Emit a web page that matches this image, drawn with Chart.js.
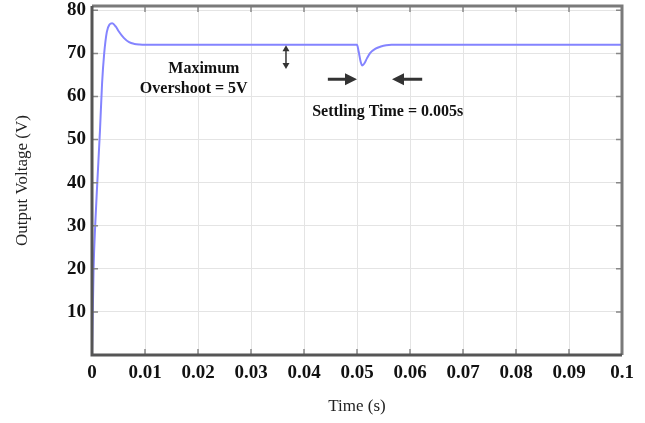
<!DOCTYPE html>
<html>
<head>
<meta charset="utf-8">
<script src="https://cdn.jsdelivr.net/npm/chart.js@4"></script>
<style>
  html, body { margin: 0; padding: 0; background: #fff; }
  #wrap { width: 645px; height: 423px; }
</style>
</head>
<body>
<div id="wrap"><canvas id="chart"></canvas></div>
<script>
// Output voltage response (time in s, voltage in V)
const timeS = [0, 0.0003, 0.0006, 0.0010, 0.0015, 0.0019, 0.0023, 0.0028, 0.0033, 0.0038,
  0.0045, 0.0050, 0.0060, 0.0070, 0.0080, 0.0090, 0.0100, 0.0500, 0.0503, 0.0507,
  0.0510, 0.0514, 0.0519, 0.0525, 0.0535, 0.0545, 0.0555, 0.0565, 0.1];
const voltage = [0, 20, 30, 40, 52, 63, 70, 75, 76.7, 77,
  76.2, 75.2, 73.6, 72.6, 72.2, 72.05, 72, 72, 70.5, 68,
  67.2, 67.7, 68.9, 70.1, 71.1, 71.6, 71.9, 72, 72];

const xTicks = [0, 0.01, 0.02, 0.03, 0.04, 0.05, 0.06, 0.07, 0.08, 0.09, 0.1];
const yTicks = [10, 20, 30, 40, 50, 60, 70, 80];

// annotation texts and arrows, in data coordinates
const notes = [
  { text: "Maximum", t: 0.0211, v: 66.5 },
  { text: "Overshoot = 5V", t: 0.0192, v: 61.7 },
  { text: "Settling Time = 0.005s", t: 0.0558, v: 56.5 }
];
const arrows = [
  { t0: 0.0445, t1: 0.0500, v0: 64, v1: 64 },
  { t0: 0.0623, t1: 0.0566, v0: 64, v1: 64 }
];
const overshootMarker = { t: 0.0366, v0: 71.9, v1: 66.4 };

const serif = "'Liberation Serif', 'Times New Roman', serif";

function arrowHead(ctx, x, y, ang, len, wid) {
  ctx.beginPath();
  ctx.moveTo(x, y);
  ctx.lineTo(x - len * Math.cos(ang) + wid * Math.sin(ang), y - len * Math.sin(ang) - wid * Math.cos(ang));
  ctx.lineTo(x - len * Math.cos(ang) - wid * Math.sin(ang), y - len * Math.sin(ang) + wid * Math.cos(ang));
  ctx.closePath();
  ctx.fill();
}

const framePlugin = {
  id: "frame",
  afterDatasetsDraw(chart) {
    const { ctx, chartArea: a, scales } = chart;
    const xs = scales.x, ys = scales.y;
    ctx.save();
    // small inner ticks on every edge
    ctx.strokeStyle = "#888";
    ctx.lineWidth = 1.5;
    xTicks.forEach(t => {
      const px = xs.getPixelForValue(t);
      ctx.beginPath();
      ctx.moveTo(px, a.bottom); ctx.lineTo(px, a.bottom - 6);
      ctx.moveTo(px, a.top); ctx.lineTo(px, a.top + 6);
      ctx.stroke();
    });
    yTicks.forEach(v => {
      const py = ys.getPixelForValue(v);
      ctx.beginPath();
      ctx.moveTo(a.left, py); ctx.lineTo(a.left + 6, py);
      ctx.moveTo(a.right, py); ctx.lineTo(a.right - 6, py);
      ctx.stroke();
    });
    // frame
    ctx.lineWidth = 3;
    ctx.strokeStyle = "#7a7a7a";
    ctx.beginPath();
    ctx.moveTo(a.left, a.top); ctx.lineTo(a.right, a.top); ctx.lineTo(a.right, a.bottom);
    ctx.stroke();
    ctx.strokeStyle = "#555";
    ctx.beginPath();
    ctx.moveTo(a.left, a.top); ctx.lineTo(a.left, a.bottom); ctx.lineTo(a.right, a.bottom);
    ctx.stroke();

    // texts
    ctx.fillStyle = "#111";
    ctx.font = "bold 16px " + serif;
    ctx.textAlign = "center";
    ctx.textBaseline = "middle";
    notes.forEach(n => ctx.fillText(n.text, xs.getPixelForValue(n.t), ys.getPixelForValue(n.v)));

    // settling time arrows
    ctx.strokeStyle = "#333";
    ctx.fillStyle = "#333";
    arrows.forEach(ar => {
      const x0 = xs.getPixelForValue(ar.t0), x1 = xs.getPixelForValue(ar.t1);
      const y0 = ys.getPixelForValue(ar.v0), y1 = ys.getPixelForValue(ar.v1);
      const ang = Math.atan2(y1 - y0, x1 - x0);
      ctx.lineWidth = 3;
      ctx.beginPath();
      ctx.moveTo(x0, y0);
      ctx.lineTo(x1 - 10 * Math.cos(ang), y1 - 10 * Math.sin(ang));
      ctx.stroke();
      arrowHead(ctx, x1, y1, ang, 12, 6);
    });

    // overshoot double arrow
    const mx = xs.getPixelForValue(overshootMarker.t);
    const my0 = ys.getPixelForValue(overshootMarker.v0), my1 = ys.getPixelForValue(overshootMarker.v1);
    ctx.lineWidth = 1.5;
    ctx.beginPath();
    ctx.moveTo(mx, my0 + 4); ctx.lineTo(mx, my1 - 4);
    ctx.stroke();
    arrowHead(ctx, mx, my0, -Math.PI / 2, 6, 3.5);
    arrowHead(ctx, mx, my1, Math.PI / 2, 6, 3.5);
    ctx.restore();
  }
};

new Chart(document.getElementById("chart"), {
  type: "line",
  data: {
    datasets: [{
      data: timeS.map((t, i) => ({ x: t, y: voltage[i] })),
      borderColor: "#8484ff",
      borderWidth: 2,
      pointRadius: 0,
      cubicInterpolationMode: "monotone",
      fill: false
    }]
  },
  options: {
    responsive: true,
    maintainAspectRatio: false,
    animation: false,
    layout: { padding: { top: 6, right: 23, left: 8, bottom: 2 } },
    plugins: { legend: { display: false }, tooltip: { enabled: false } },
    scales: {
      x: {
        type: "linear",
        min: 0,
        max: 0.1,
        afterBuildTicks: s => { s.ticks = xTicks.map(v => ({ value: v })); },
        afterFit: s => { s.height = 66; s.paddingLeft = 0; s.paddingRight = 0; },
        grid: { color: "#e4e4e4", drawTicks: false },
        border: { display: false },
        ticks: {
          padding: 7,
          color: "#111",
          font: { family: serif, size: 19, weight: "bold" },
          callback: v => String(+v.toFixed(2))
        },
        title: {
          display: true,
          text: "Time (s)",
          color: "#222",
          font: { family: serif, size: 17 },
          padding: { top: 4, bottom: 4 }
        }
      },
      y: {
        min: 0,
        max: 81,
        afterBuildTicks: s => { s.ticks = yTicks.map(v => ({ value: v })); },
        afterFit: s => { s.width = 84; s.paddingTop = 0; s.paddingBottom = 0; },
        grid: { color: "#e4e4e4", drawTicks: false },
        border: { display: false },
        ticks: {
          padding: 6,
          color: "#111",
          font: { family: serif, size: 19, weight: "bold" }
        },
        title: {
          display: true,
          text: "Output Voltage (V)",
          color: "#222",
          font: { family: serif, size: 17 },
          padding: { top: 4, bottom: 4 }
        }
      }
    }
  },
  plugins: [framePlugin]
});
</script>
</body>
</html>
